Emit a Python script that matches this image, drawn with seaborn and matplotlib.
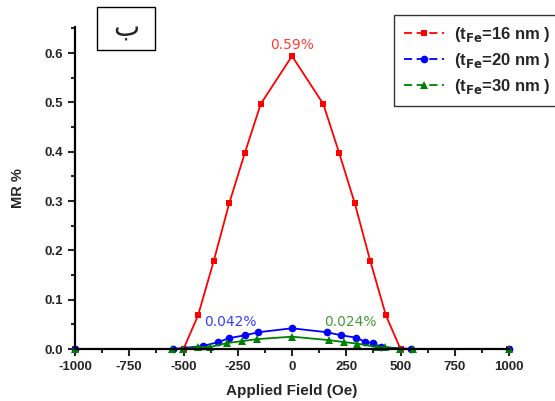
import pandas as pd
import matplotlib
matplotlib.use("Agg")
import matplotlib.pyplot as plt
import seaborn as sns
from matplotlib.lines import Line2D
from matplotlib.patches import Rectangle
from matplotlib.ticker import MultipleLocator

# data
red_x = [-1000, -500, -433, -361, -289, -217, -144, 0, 144, 217, 289, 361, 433, 500, 1000]
red_y = [0, 0, 0.068, 0.178, 0.296, 0.398, 0.497, 0.594, 0.497, 0.398, 0.296, 0.178, 0.068, 0, 0]

blue_x = [-1000, -550, -410, -340, -290, -215, -155, 0, 160, 225, 295, 335, 373, 410, 550, 1000]
blue_y = [0, 0, 0.006, 0.014, 0.022, 0.028, 0.034, 0.042, 0.034, 0.028, 0.023, 0.015, 0.012, 0.004, 0, 0]

green_x = [-1000, -553, -502, -433, -378, -300, -230, -161, 0, 170, 240, 300, 392, 429, 498, 558, 1000]
green_y = [0, 0, 0, 0.004, 0.004, 0.012, 0.016, 0.020, 0.025, 0.018, 0.014, 0.011, 0.004, 0.004, 0, 0, 0]

series_names = ["16 nm", "20 nm", "30 nm"]
colors = {"16 nm": "#ff0000", "20 nm": "#0000ff", "30 nm": "#008000"}
markers = {"16 nm": "s", "20 nm": "o", "30 nm": "^"}
marker_sizes = {"16 nm": 4.5, "20 nm": 5.5, "30 nm": 6}

peak_labels = ["0.59%", "0.042%", "0.024%"]
peak_pos = [(0, 0.617), (-286, 0.055), (267, 0.055)]
peak_colors = ["#ff3b3b", "#3b3bff", "#4a9a3a"]

frames = []
for name, xs, ys in zip(series_names, [red_x, blue_x, green_x], [red_y, blue_y, green_y]):
    frames.append(pd.DataFrame({"field": xs, "mr": ys, "t": name}))
df = pd.concat(frames, ignore_index=True)

sns.set_style("ticks")
plt.rcParams["font.family"] = ["Liberation Sans", "DejaVu Sans"]
plt.rcParams["axes.unicode_minus"] = False

fig = plt.figure(figsize=(5.55, 4.01), dpi=100)
ax = fig.add_axes([75 / 555, 1 - 349 / 401, 434 / 555, 322 / 401])

for name in series_names:
    sub = df[df["t"] == name]
    sns.lineplot(data=sub, x="field", y="mr", color=colors[name], marker=markers[name],
                 markersize=marker_sizes[name], markeredgewidth=0, linewidth=1.3,
                 ax=ax, clip_on=False, legend=False)

ax.set_xlim(-1000, 1000)
ax.set_ylim(0, 0.653)
ax.xaxis.set_major_locator(MultipleLocator(250))
ax.xaxis.set_minor_locator(MultipleLocator(125))
ax.yaxis.set_major_locator(MultipleLocator(0.1))
ax.yaxis.set_minor_locator(MultipleLocator(0.05))
ax.set_yticklabels([f"{v:.1f}" for v in ax.get_yticks()])
ax.tick_params(which="major", length=5, width=1.5, labelsize=9.5)
ax.tick_params(which="minor", length=3, width=1.5)
for lbl in ax.get_xticklabels() + ax.get_yticklabels():
    lbl.set_fontweight("bold")
sns.despine(ax=ax)
for side in ["left", "bottom"]:
    ax.spines[side].set_linewidth(1.6)
    ax.spines[side].set_color("black")

ax.set_xlabel("Applied Field (Oe)", fontsize=11, fontweight="bold", labelpad=8)
ax.set_ylabel("MR %", fontsize=10.5, fontweight="bold", labelpad=14)

for txt, (px, py), c in zip(peak_labels, peak_pos, peak_colors):
    ax.text(px, py, txt, color=c, fontsize=10, ha="center", va="center",
            family="DejaVu Sans")

handles = [Line2D([], [], color=colors[n], marker=markers[n], markersize=marker_sizes[n],
                  markeredgewidth=0, linewidth=1.3, linestyle=(0, (4.5, 2.5))) for n in series_names]
labels = [r"(t$_{\mathbf{Fe}}$=" + n + " )" for n in series_names]
leg = fig.legend(handles, labels, loc="upper right", bbox_to_anchor=(1.01, 1 - 15 / 401),
                 bbox_transform=fig.transFigure, frameon=True, fancybox=False,
                 prop={"weight": "bold", "size": 12}, handlelength=2.4, labelspacing=0.42,
                 borderpad=0.6, borderaxespad=0, handletextpad=0.6)
leg.get_frame().set_edgecolor("black")
leg.get_frame().set_linewidth(1.0)

fig.add_artist(Rectangle((97 / 555, 1 - 50 / 401), 58 / 555, 43 / 401, transform=fig.transFigure,
                         facecolor="white", edgecolor="black", linewidth=1.0))
fig.text(126 / 555, 1 - 28 / 401, "ب", fontsize=20, ha="center", va="center", family="DejaVu Sans")

fig.savefig("out.png", dpi=100)
